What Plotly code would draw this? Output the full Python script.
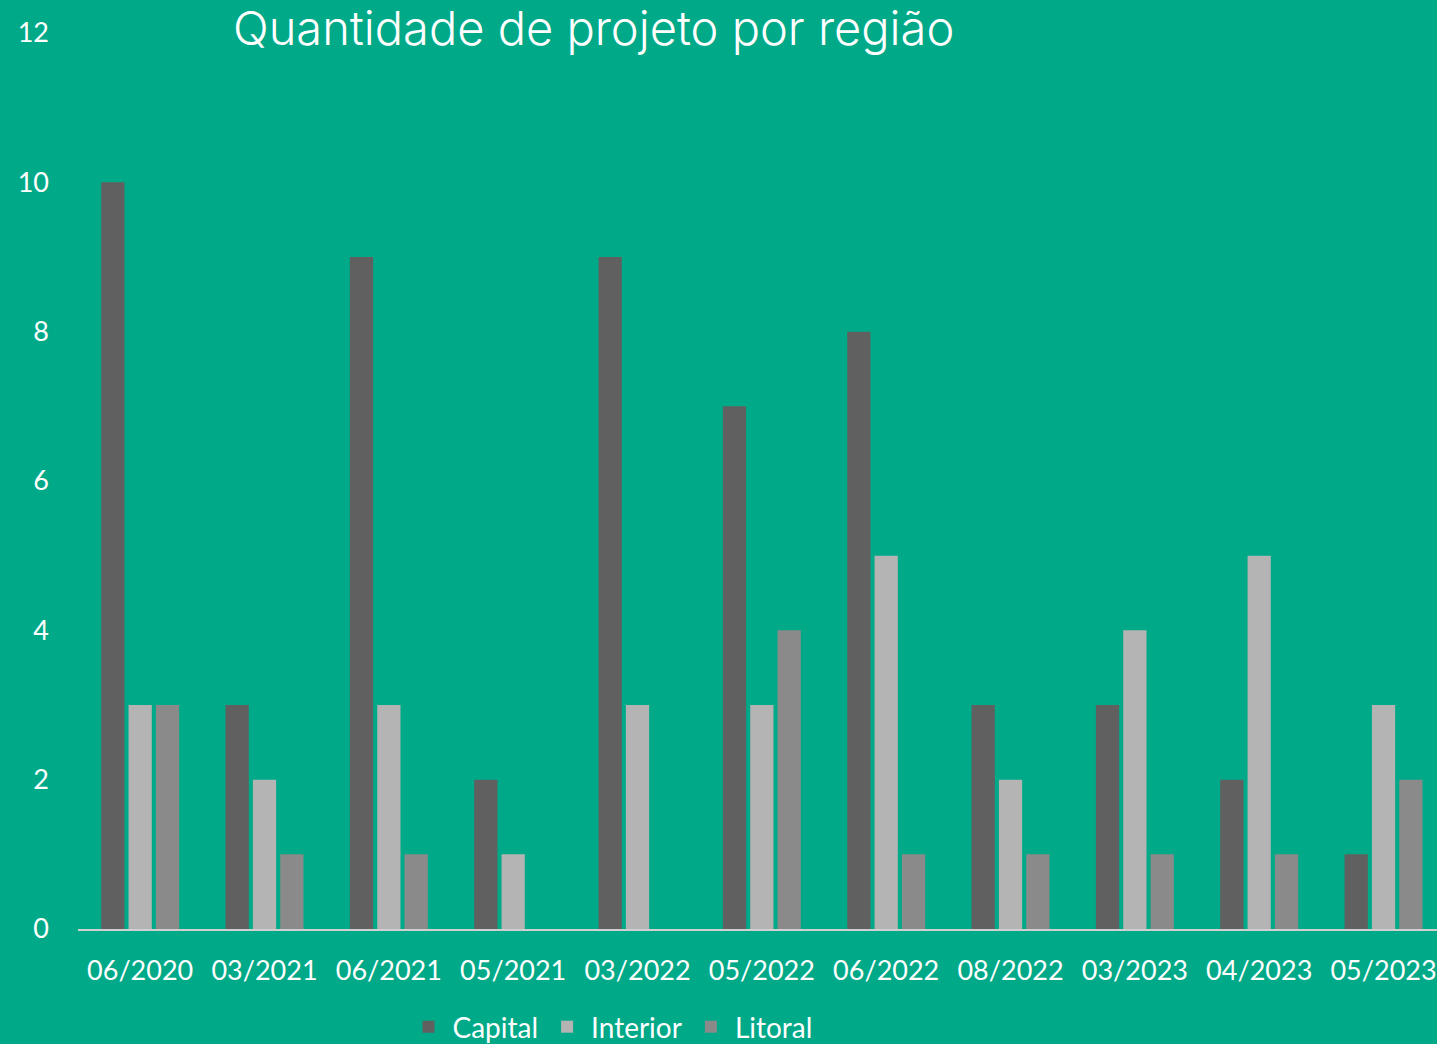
import plotly.graph_objects as go

categories = ["06/2020", "03/2021", "06/2021", "05/2021", "03/2022", "05/2022",
              "06/2022", "08/2022", "03/2023", "04/2023", "05/2023"]
capital = [10, 3, 9, 2, 9, 7, 8, 3, 3, 2, 1]
interior = [3, 2, 3, 1, 3, 3, 5, 2, 4, 5, 3]
litoral = [3, 1, 1, 0, 0, 4, 1, 1, 1, 1, 2]
y_ticks = [0, 2, 4, 6, 8, 10, 12]

BG = "#00A988"
fig = go.Figure()
for name, vals, col in [("Capital", capital, "#606060"),
                        ("Interior", interior, "#b4b4b4"),
                        ("Litoral", litoral, "#8a8a8a")]:
    fig.add_trace(go.Bar(name=name, x=categories, y=vals, marker_color=col,
                         marker_line_width=0))

fig.update_layout(
    width=1437, height=1044,
    paper_bgcolor=BG, plot_bgcolor=BG,
    margin=dict(l=78, r=0, t=33, b=115),
    barmode="group", bargap=0.34, bargroupgap=0.15,
    font=dict(family="Lato, Open Sans, sans-serif", color="white", size=27),
    title=dict(text="Quantidade de projeto por região", xref="container", x=233/1437,
               xanchor="left", yref="container", y=1-29/1044, yanchor="middle",
               font=dict(family="Inter, Roboto, sans-serif", size=47, color="white",
                         weight=300)),
    showlegend=True,
    legend=dict(orientation="h", xref="container", x=611/1437, xanchor="center",
                yref="container", y=1-1027/1044, yanchor="middle",
                font=dict(size=28, color="white"), bgcolor="rgba(0,0,0,0)",
                itemwidth=38),
)
fig.update_xaxes(range=[-0.5, 10.43], showgrid=False, showline=True,
                 linecolor="#d0d0d0", linewidth=2, ticks="", zeroline=False,
                 tickfont=dict(size=27), ticklabelstandoff=17)
fig.update_yaxes(range=[0, 12], tickvals=y_ticks, showgrid=False, showline=False,
                 zeroline=False, ticks="", tickfont=dict(size=27),
                 ticklabelstandoff=28)

fig.write_html("out.html", config={"displayModeBar": False},
               post_script="document.body.style.margin='0';document.body.style.overflow='hidden';")
